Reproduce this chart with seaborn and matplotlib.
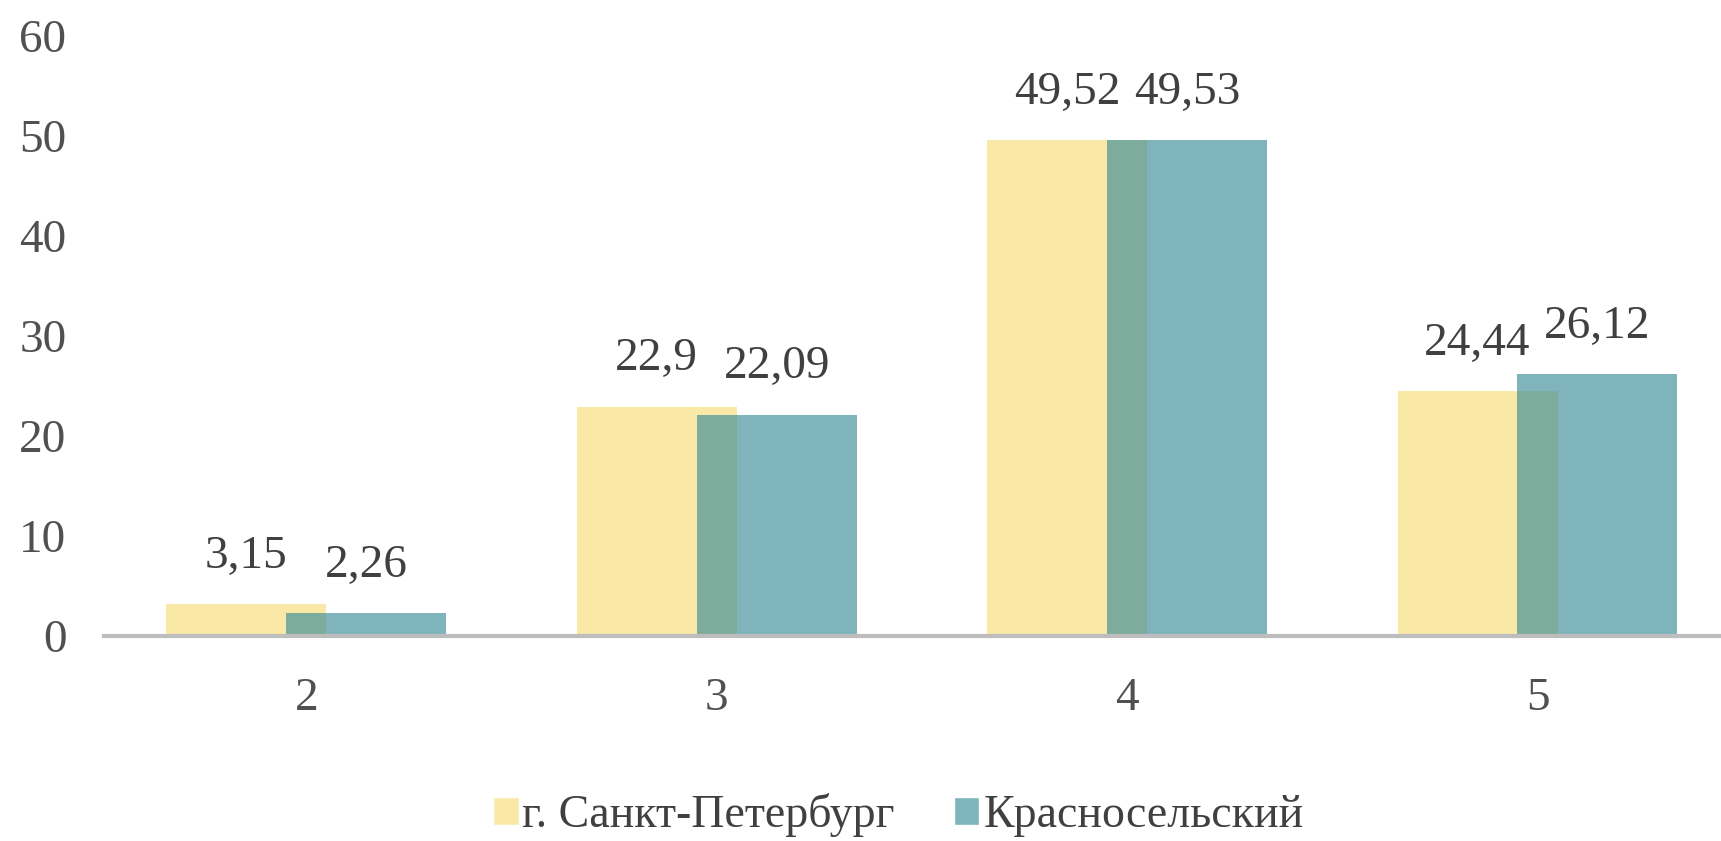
import matplotlib.pyplot as plt
import pandas as pd
import seaborn as sns
from matplotlib.patches import Patch

# Data
grades = ["2", "3", "4", "5"]
spb = [3.15, 22.9, 49.52, 24.44]
krasnoselsky = [2.26, 22.09, 49.53, 26.12]
series_names = ["г. Санкт-Петербург", "Красносельский"]

df = pd.DataFrame({
    "grade": grades * 2,
    "value": spb + krasnoselsky,
    "series": [series_names[0]] * len(grades) + [series_names[1]] * len(grades),
})

sns.set_style("white")
plt.rcParams["font.family"] = ["Liberation Serif", "DejaVu Serif"]

colors = {series_names[0]: "#FAE9A6", series_names[1]: (0.23, 0.55, 0.60, 0.65)}

fig = plt.figure(figsize=(17.21, 8.41), dpi=100)
ax = fig.add_axes([0.0604, 0.244, 0.9396, 0.714])

sns.barplot(data=df, x="grade", y="value", hue="series", order=grades,
            hue_order=series_names, palette=colors, width=0.584,
            dodge=True, legend=False, linewidth=0, saturation=1, ax=ax)

# widen bars so the two series overlap like in the original
bar_w = 0.39
for p in ax.patches:
    c = p.get_x() + p.get_width() / 2
    p.set_width(bar_w)
    p.set_x(c - bar_w / 2)

for cont in ax.containers:
    vals = [b.get_height() for b in cont]
    ax.bar_label(cont, labels=[f"{v:g}".replace(".", ",") for v in vals],
                 padding=19, fontsize=34, color="#404040")

ax.set_ylim(0, 60)
ax.set_xlim(-0.493, 3.447)
ax.set_yticks(range(0, 61, 10))
ax.set_xlabel("")
ax.set_ylabel("")
ax.tick_params(axis="y", length=0, pad=27, labelsize=34, labelcolor="#505050")
ax.tick_params(axis="x", length=0, pad=30, labelsize=34, labelcolor="#505050")
sns.despine(ax=ax, left=True, right=True, top=True)
ax.spines["bottom"].set_color("#BDBDBD")
ax.spines["bottom"].set_linewidth(3)

handles = [Patch(facecolor="#FAE9A6", label=series_names[0]),
           Patch(facecolor="#7FB4BC", label=series_names[1])]
fig.legend(handles=handles, loc="center", bbox_to_anchor=(0.522, 0.031),
           ncol=2, frameon=False, fontsize=33, handlelength=0.55,
           handleheight=0.55, handletextpad=0.08, columnspacing=1.3,
           labelcolor="#404040")

fig.savefig("out.png", dpi=100)
